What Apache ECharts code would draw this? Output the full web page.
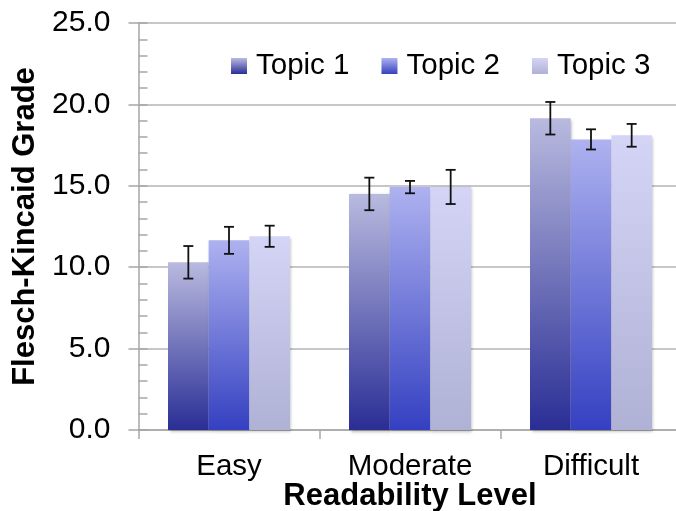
<!DOCTYPE html>
<html>
<head>
<meta charset="utf-8">
<script src="https://cdn.jsdelivr.net/npm/echarts@6/dist/echarts.min.js"></script>
<style>
html,body{margin:0;padding:0;background:#fff;}
#c{width:676px;height:511px;}
</style>
</head>
<body>
<div id="c"></div>
<script>
var categories = ['Easy', 'Moderate', 'Difficult'];
var seriesNames = ['Topic 1', 'Topic 2', 'Topic 3'];
var topic1 = [10.3, 14.5, 19.15];
var topic2 = [11.65, 14.92, 17.85];
var topic3 = [11.9, 14.93, 18.1];
var err1 = [1.0, 1.0, 1.0];
var err2 = [0.83, 0.38, 0.62];
var err3 = [0.65, 1.05, 0.7];
var yMin = 0, yMax = 25, yStep = 5;

var FONT = "'Liberation Sans', Arial, sans-serif";
var catGap = 0.326;

function grad(top, bottom) {
  return new echarts.graphic.LinearGradient(0, 0, 0, 1, [
    {offset: 0, color: top}, {offset: 1, color: bottom}
  ]);
}
var colors = [
  grad('#b9badf', '#2a2e95'),
  grad('#aeb2f0', '#3440c1'),
  grad('#d4d5f6', '#afb1d5')
];
var values = [topic1, topic2, topic3];
var errs = [err1, err2, err3];

var series = [];
for (var s = 0; s < 3; s++) {
  series.push({
    name: seriesNames[s],
    type: 'bar',
    data: values[s],
    barGap: '0%',
    barCategoryGap: (catGap * 100) + '%',
    itemStyle: {
      color: colors[s],
      shadowColor: 'rgba(0,0,0,0.28)',
      shadowBlur: 3,
      shadowOffsetX: 1.5,
      shadowOffsetY: 1.5
    },
    z: 2
  });
}
for (var s2 = 0; s2 < 3; s2++) {
  (function (si) {
    var d = [];
    for (var i = 0; i < categories.length; i++) {
      d.push([i, values[si][i] - errs[si][i], values[si][i] + errs[si][i]]);
    }
    series.push({
      type: 'custom',
      name: 'err' + si,
      data: d,
      z: 5,
      silent: true,
      renderItem: function (params, api) {
        var band = api.size([1, 0])[0];
        var bw = band * (1 - catGap) / 3;
        var lo = api.coord([api.value(0), api.value(1)]);
        var hi = api.coord([api.value(0), api.value(2)]);
        var x = lo[0] + (si - 1) * bw;
        var cap = 5;
        var st = {stroke: '#111', lineWidth: 1.8};
        return {
          type: 'group',
          children: [
            {type: 'line', shape: {x1: x, y1: hi[1], x2: x, y2: lo[1]}, style: st},
            {type: 'line', shape: {x1: x - cap, y1: hi[1], x2: x + cap, y2: hi[1]}, style: st},
            {type: 'line', shape: {x1: x - cap, y1: lo[1], x2: x + cap, y2: lo[1]}, style: st}
          ]
        };
      }
    });
  })(s2);
}

var chart = echarts.init(document.getElementById('c'), null, {renderer: 'canvas'});
chart.setOption({
  animation: false,
  backgroundColor: '#fff',
  textStyle: {fontFamily: FONT},
  grid: {left: 138.5, right: -5.5, top: 23, bottom: 81, containLabel: false, outerBoundsMode: 'none'},
  legend: {
    data: seriesNames,
    left: 231,
    top: 51,
    padding: 0,
    itemWidth: 16,
    itemHeight: 16,
    itemGap: 32,
    icon: 'rect',
    textStyle: {fontSize: 29.5, color: '#000', fontFamily: FONT, padding: [0, 0, 0, 4]}
  },
  xAxis: {
    type: 'category',
    data: categories,
    boundaryGap: true,
    name: 'Readability Level',
    nameLocation: 'middle',
    nameGap: 51,
    nameMoveOverlap: false,
    nameTextStyle: {fontSize: 31, fontWeight: 'bold', color: '#000', fontFamily: FONT},
    axisLine: {show: true, lineStyle: {color: '#a6a6a6', width: 1.5}},
    axisTick: {show: true, length: 9, lineStyle: {color: '#a6a6a6', width: 1.5}},
    axisLabel: {fontSize: 29.5, color: '#000', margin: 22, fontFamily: FONT},
    splitLine: {show: false}
  },
  yAxis: [{
    type: 'value',
    min: yMin, max: yMax, interval: yStep,
    position: 'left',
    name: 'Flesch-Kincaid Grade',
    nameLocation: 'middle',
    nameRotate: 90,
    nameGap: 98,
    nameMoveOverlap: false,
    nameTextStyle: {fontSize: 31, fontWeight: 'bold', color: '#000', fontFamily: FONT},
    axisLine: {show: true, lineStyle: {color: '#a6a6a6', width: 1.5}},
    axisTick: {show: true, length: 10, lineStyle: {color: '#a6a6a6', width: 1.5}},
    axisLabel: {fontSize: 30, color: '#000', margin: 28, fontFamily: FONT,
      formatter: function (v) { return v.toFixed(1); }},
    splitLine: {show: true, lineStyle: {color: '#b5b5b5', width: 1.5}}
  }, {
    type: 'value',
    min: yMin, max: yMax, interval: yStep,
    position: 'left',
    axisLine: {show: false},
    axisTick: {show: true, inside: true, length: 9, lineStyle: {color: '#a6a6a6', width: 1.5}},
    minorTick: {show: true, splitNumber: 5, length: 9, lineStyle: {color: '#a6a6a6', width: 1.5}},
    axisLabel: {show: false},
    splitLine: {show: false}
  }],
  series: series
});
</script>
</body>
</html>
